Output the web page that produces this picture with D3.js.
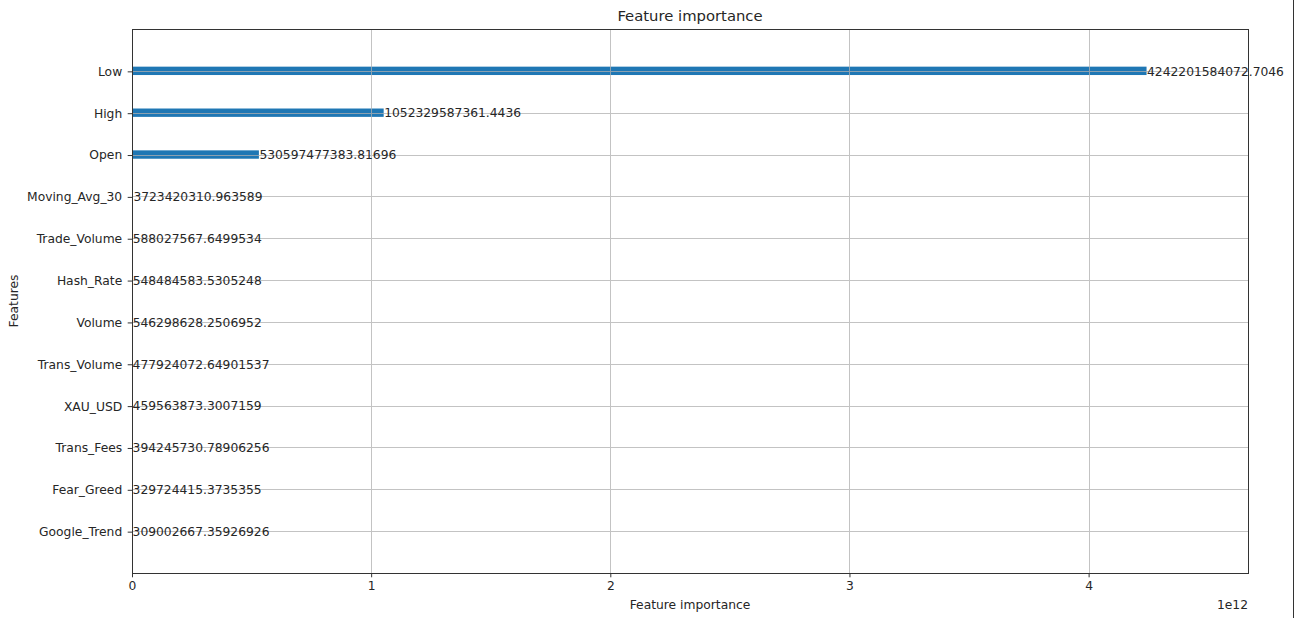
<!DOCTYPE html>
<html>
<head>
<meta charset="utf-8">
<script src="https://cdn.jsdelivr.net/npm/d3@7"></script>
<style>
  html, body { margin: 0; padding: 0; background: #fff; }
  svg { display: block; font-family: "DejaVu Sans", sans-serif; }
</style>
</head>
<body>
<svg id="chart" width="1294" height="618"></svg>
<script>
// Features listed bottom-to-top as in the plot (index 0 = bottom)
const features = ["Google_Trend", "Fear_Greed", "Trans_Fees", "XAU_USD", "Trans_Volume", "Volume",
                  "Hash_Rate", "Trade_Volume", "Moving_Avg_30", "Open", "High", "Low"];
const importances = [309002667.35926926, 329724415.3735355, 394245730.78906256, 459563873.3007159,
                     477924072.64901537, 546298628.2506952, 548484583.5305248, 588027567.6499534,
                     3723420310.963589, 530597477383.81696, 1052329587361.4436, 4242201584072.7046];
const valueLabels = ["309002667.35926926", "329724415.3735355", "394245730.78906256", "459563873.3007159",
                     "477924072.64901537", "546298628.2506952", "548484583.5305248", "588027567.6499534",
                     "3723420310.963589", "530597477383.81696", "1052329587361.4436", "4242201584072.7046"];
const xTicks = [0, 1e12, 2e12, 3e12, 4e12];
const xTickLabels = ["0", "1", "2", "3", "4"];
const titleText = "Feature importance";
const xLabelText = "Feature importance";
const yLabelText = "Features";
const offsetText = "1e12";

const svg = d3.select("#chart");
const L = 132, R = 1248, T = 29, B = 573;
const textColor = "#262626";

const x = d3.scaleLinear().domain([0, d3.max(importances) * 1.1]).range([L, R]);
const y = d3.scaleLinear().domain([-1, features.length]).range([B, T]);
const barH = Math.abs(y(0.2) - y(0));

// Bars
svg.append("g").selectAll("rect").data(importances).join("rect")
  .attr("x", x(0))
  .attr("y", (d, i) => y(i) - barH / 2)
  .attr("width", d => Math.max(0, x(d) - x(0)))
  .attr("height", barH)
  .attr("fill", "#1f77b4");

// Grid (drawn above bars, as in matplotlib default)
const grid = svg.append("g").attr("stroke", "#b0b0b0").attr("stroke-width", 1).attr("opacity", 0.75);
grid.selectAll("line.v").data(xTicks).join("line")
  .attr("x1", d => Math.round(x(d)) + 0.5).attr("x2", d => Math.round(x(d)) + 0.5)
  .attr("y1", T).attr("y2", B);
grid.selectAll("line.h").data(features.map((d, i) => i)).join("line")
  .attr("x1", L).attr("x2", R)
  .attr("y1", i => Math.round(y(i)) + 0.5).attr("y2", i => Math.round(y(i)) + 0.5);

// Value labels
svg.append("g").selectAll("text").data(importances).join("text")
  .attr("x", d => x(d) + 0.5)
  .attr("y", (d, i) => y(i) + 0.5)
  .attr("dy", "0.35em")
  .attr("font-size", "12.3px")
  .attr("fill", textColor)
  .text((d, i) => valueLabels[i]);

// Axes
const xAxis = d3.axisBottom(x).tickValues(xTicks).tickFormat((d, i) => xTickLabels[i])
  .tickSize(4.3).tickPadding(3.5);
const gx = svg.append("g").attr("transform", `translate(0,${B})`).call(xAxis);
gx.select(".domain").remove();
gx.selectAll("line").attr("stroke", "#333");
gx.selectAll("text").attr("font-size", "12.3px").attr("fill", textColor).attr("font-family", "DejaVu Sans");

const yAxis = d3.axisLeft(y).tickValues(features.map((d, i) => i)).tickFormat((d) => features[d])
  .tickSize(4.3).tickPadding(5.5);
const gy = svg.append("g").attr("transform", `translate(${L},0.5)`).call(yAxis);
gy.select(".domain").remove();
gy.selectAll("line").attr("stroke", "#333");
gy.selectAll("text").attr("font-size", "12.3px").attr("fill", textColor).attr("font-family", "DejaVu Sans");

// Spines
svg.append("rect").attr("x", L + 0.5).attr("y", T + 0.5).attr("width", R - L).attr("height", B - T)
  .attr("fill", "none").attr("stroke", "#333").attr("stroke-width", 1);

// Titles
svg.append("text").attr("x", (L + R) / 2).attr("y", 21).attr("text-anchor", "middle")
  .attr("font-size", "14.8px").attr("fill", textColor).text(titleText);
svg.append("text").attr("x", (L + R) / 2).attr("y", 609).attr("text-anchor", "middle")
  .attr("font-size", "12.3px").attr("fill", textColor).text(xLabelText);
svg.append("text").attr("transform", `translate(18,${(T + B) / 2}) rotate(-90)`).attr("text-anchor", "middle")
  .attr("font-size", "12.3px").attr("fill", textColor).text(yLabelText);
svg.append("text").attr("x", R).attr("y", 609).attr("text-anchor", "end")
  .attr("font-size", "12.3px").attr("fill", textColor).text(offsetText);

// Right image border
svg.append("line").attr("x1", 1293.5).attr("x2", 1293.5).attr("y1", 0).attr("y2", 618)
  .attr("stroke", "#333").attr("stroke-width", 1);
</script>
</body>
</html>
